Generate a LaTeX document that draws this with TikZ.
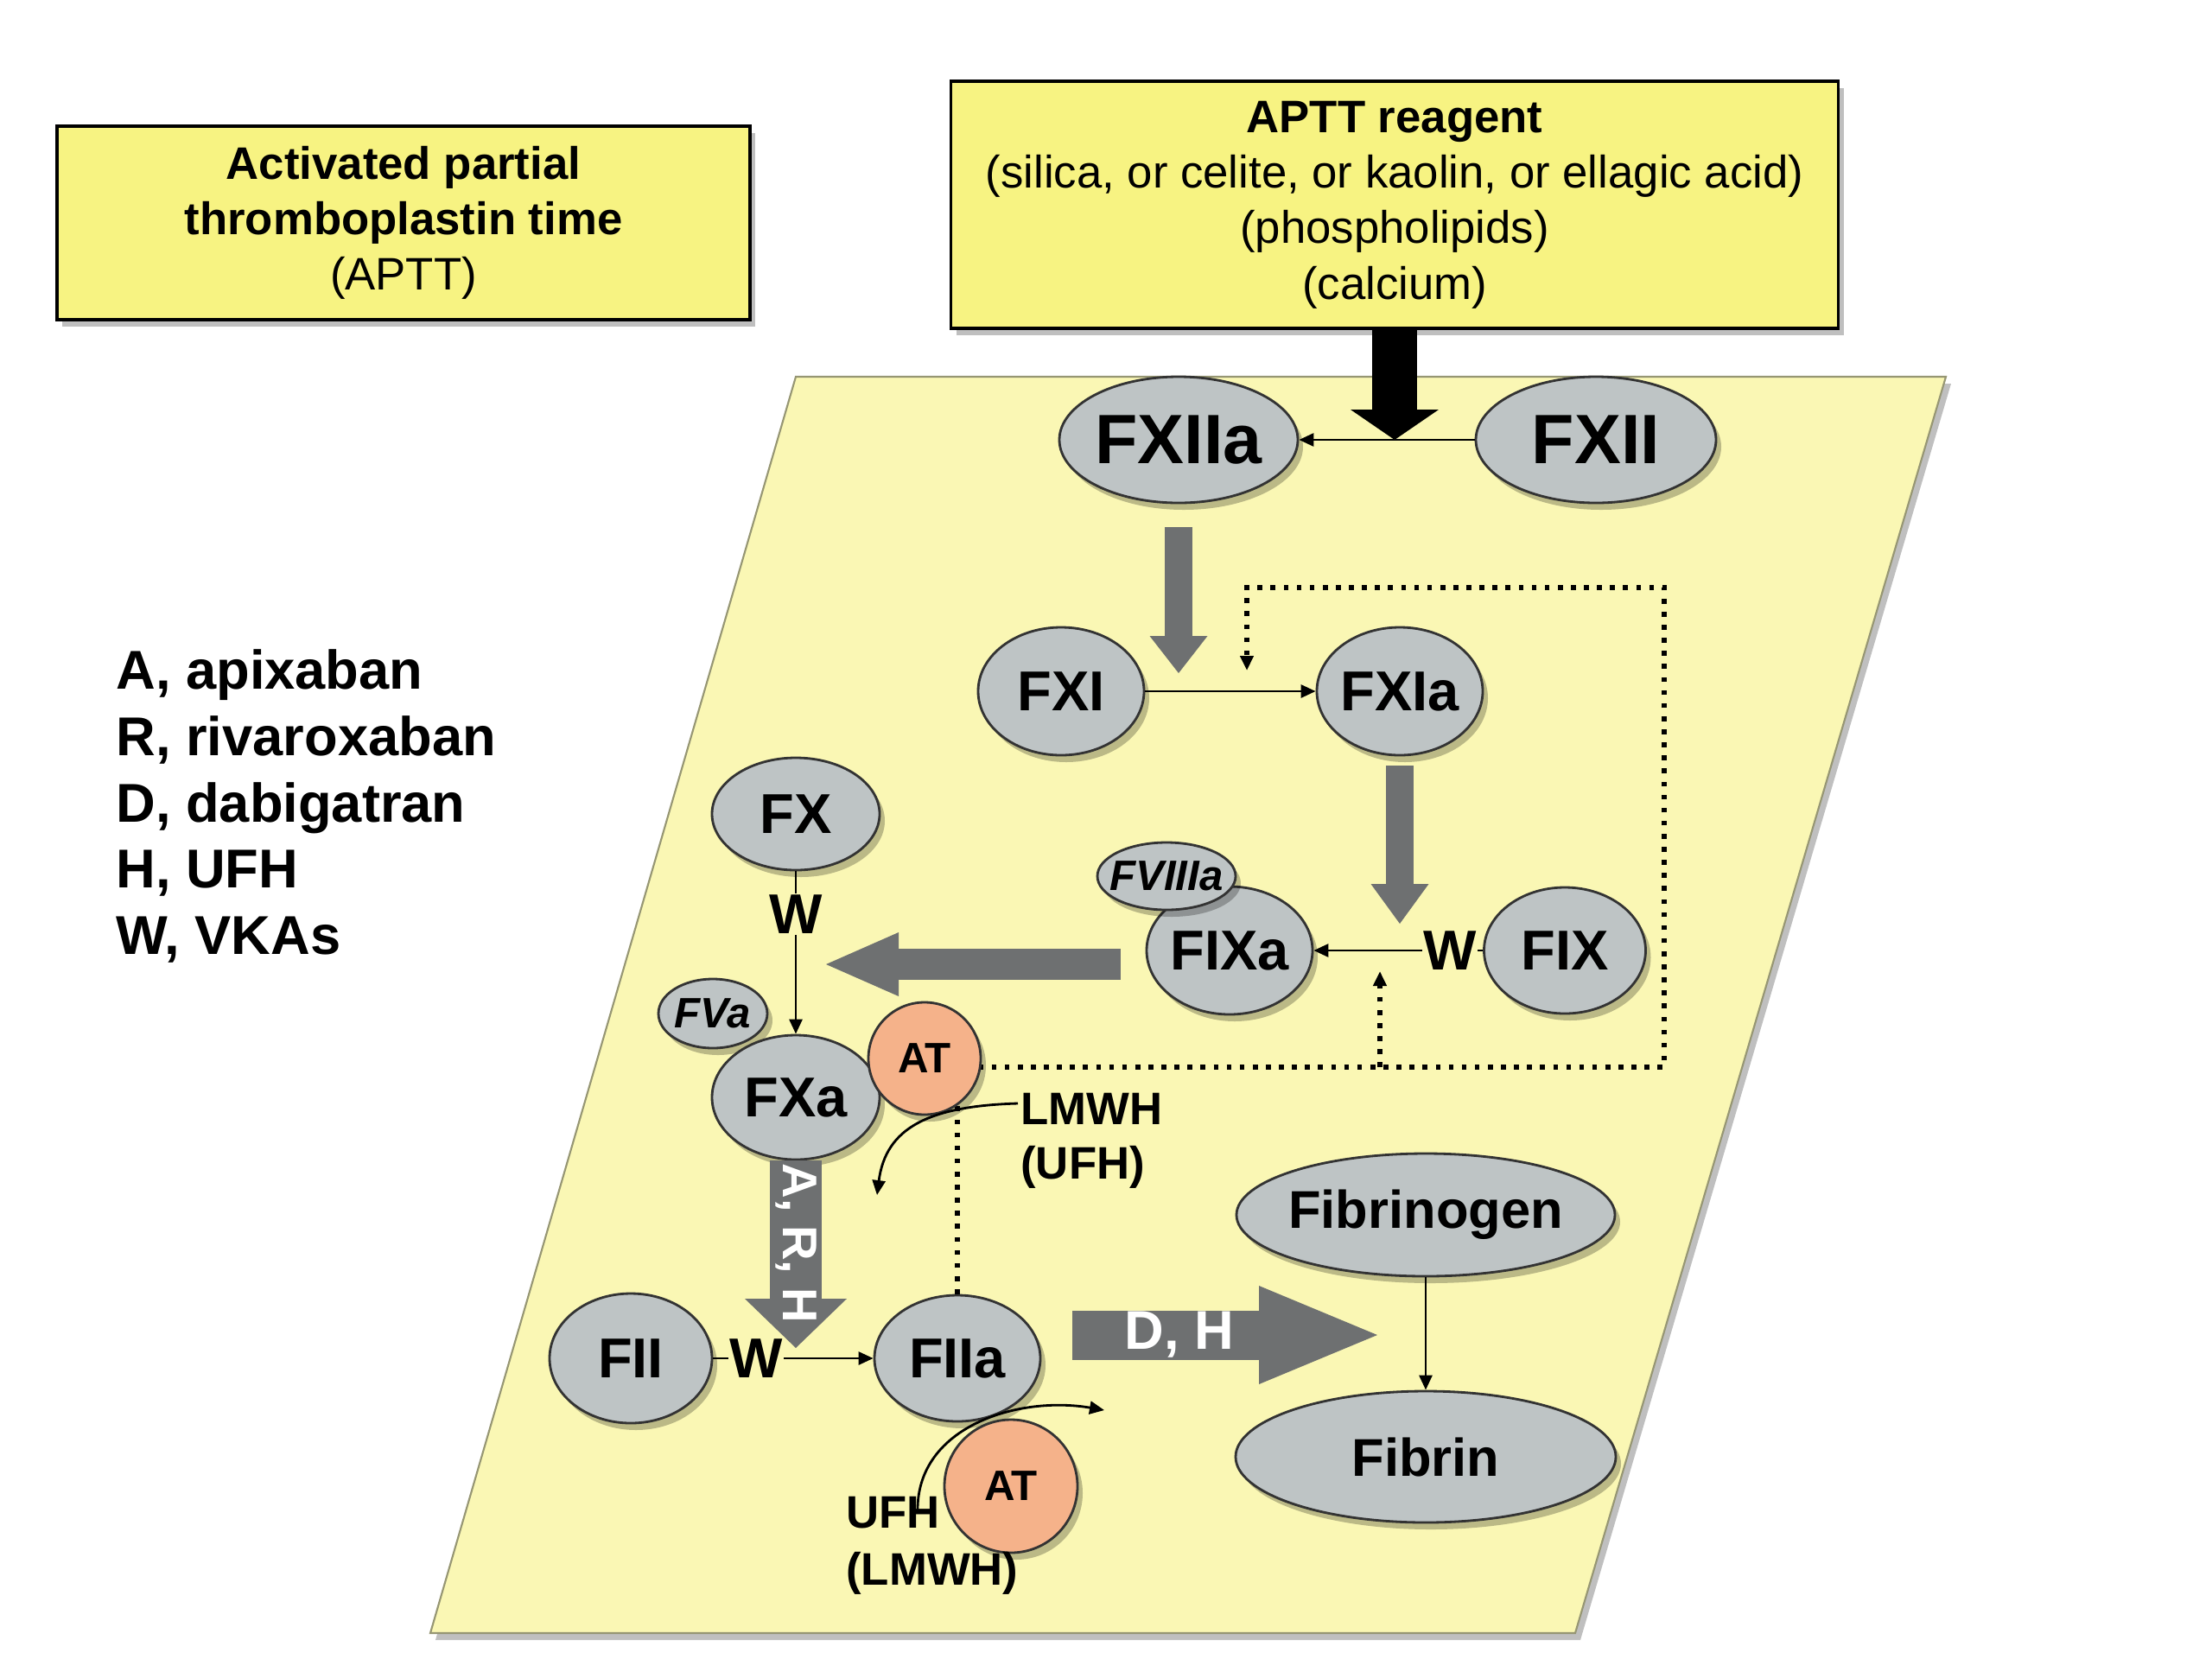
\documentclass[tikz,border=0pt]{standalone}
\usepackage{fontspec}
\setmainfont{Liberation Sans}
\usepackage{tikz}
\usetikzlibrary{arrows.meta,positioning,shapes.geometric,shadows,calc}
\definecolor{boxyellow}{RGB}{247,243,130}
\definecolor{plane}{RGB}{250,247,180}
\definecolor{planeedge}{RGB}{150,150,115}
\definecolor{factor}{RGB}{190,196,197}
\definecolor{atorange}{RGB}{245,178,138}
\definecolor{blockgray}{RGB}{110,112,113}

\begin{document}
\begin{tikzpicture}[>={Triangle[length=1.7mm,width=1.5mm]}, line width=0.8pt,
      shadowed/.style={drop shadow={shadow xshift=0.6mm, shadow yshift=-0.8mm, opacity=0.25, fill=black}},
      note/.style={draw=black, line width=1pt, fill=boxyellow, align=center, font=\fontsize{15}{18.3}\selectfont, shadowed},
      fac/.style={ellipse, draw=black!80, fill=factor, inner xsep=-1.5mm, inner ysep=0pt, font=\fontsize{18.5}{20}\selectfont\bfseries, shadowed},
      cof/.style={fac, font=\fontsize{14}{16}\selectfont\bfseries\itshape},
      atnode/.style={circle, draw=black!80, fill=atorange, inner sep=0pt, font=\fontsize{14}{16}\selectfont\bfseries, shadowed},
      vka/.style={inner sep=0pt, font=\fontsize{18.5}{20}\selectfont\bfseries},
      drug/.style={align=left, inner sep=0pt, anchor=west},
      fb/.style={line width=1.6pt, dash pattern=on 1.6pt off 2.7pt},
      fat/.style args={#1/#2/#3}{line width=#1, -{Triangle[width=#2, length=#3, line width=0pt]}},
      lbl/.style={text=white, inner sep=0pt, font=\fontsize{18}{20}\selectfont\bfseries}]
      \path[fill=white, use as bounding box] (0,0) rectangle (25.6,-19.19);
      \draw[draw=planeedge, line width=0.6pt, fill=plane, shadowed] (9.21,-4.36) -- (22.52,-4.36) -- (18.23,-18.90) -- (4.98,-18.90) -- cycle;

      \node[note, minimum width=80.2mm, minimum height=22.4mm] (aptt) at (4.67,-2.58) {\textbf{Activated partial}\\\textbf{thromboplastin time}\\(APTT)};
      \node[note, minimum width=102.7mm, minimum height=28.6mm] (reag) at (16.14,-2.37) {\textbf{APTT reagent}\\(silica, or celite, or kaolin, or ellagic acid)\\(phospholipids)\\(calcium)};
      \node[anchor=west, align=left, inner sep=0pt, font=\fontsize{18}{21.8}\selectfont\bfseries] (key) at (1.33,-9.33) {A, apixaban\\R, rivaroxaban\\D, dabigatran\\H, UFH\\W, VKAs};

      \node[fac, minimum width=27.6mm, minimum height=14.6mm, font=\fontsize{23}{25}\selectfont\bfseries] (fxiia) at (13.64,-5.09) {FXIIa};
      \node[fac, minimum width=27.8mm, minimum height=14.6mm, font=\fontsize{23}{25}\selectfont\bfseries] (fxii) at (18.47,-5.09) {FXII};
      \draw[->] (fxii) -- (fxiia);
      \draw[fat=5.2mm/10.2mm/3.5mm, draw=black] (reag.south) -- (reag.south |- fxii);

      \node[fac, minimum width=19.2mm, minimum height=14.8mm] (fxi) at (12.28,-8.00) {FXI};
      \node[fac, minimum width=19.2mm, minimum height=14.8mm] (fxia) at (16.20,-8.00) {FXIa};
      \draw[->] (fxi) -- (fxia);
      \draw[fat=3.2mm/6.7mm/4.3mm, draw=blockgray] ($(fxiia.south)+(0,-0.27)$) -- ($(fxiia.south |- fxi)+(0,0.21)$);

      \node[fac, minimum width=18.7mm, minimum height=14.6mm] (fix) at (18.11,-11.00) {FIX};
      \node[vka] (wfix) at (16.78,-11.00) {W};
      \node[fac, minimum width=19.2mm, minimum height=14.8mm] (fixa) at (14.23,-11.00) {FIXa};
      \node[cof, minimum width=16mm, minimum height=7.8mm] (fviiia) at (13.50,-10.14) {FVIIIa};
      \draw (fix) -- (wfix);
      \draw[->] (wfix) -- (fixa);
      \draw[fat=3.2mm/6.7mm/4.6mm, draw=blockgray] ($(fxia.south)+(0,-0.11)$) -- ($(fxia.south |- fix)+(0,0.31)$);

      \node[fac, minimum width=19.4mm, minimum height=13mm] (fx) at (9.21,-9.42) {FX};
      \node[vka] (wfx) at (9.21,-10.58) {W};
      \node[cof, minimum width=12.6mm, minimum height=8mm] (fva) at (8.25,-11.73) {FVa};
      \node[fac, minimum width=19.4mm, minimum height=14.4mm] (fxa) at (9.21,-12.70) {FXa};
      \draw (fx) -- (wfx);
      \draw[->] (wfx) -- (fxa);
      \draw[fat=3.6mm/7.4mm/8.4mm, draw=blockgray] ($(fixa.west)+(-0.29,-0.16)$) -- ($(fx.south |- fixa)+(0.35,-0.16)$);

      \node[fac, minimum width=18.8mm, minimum height=15mm] (fii) at (7.30,-15.72) {FII};
      \node[vka] (wfii) at (8.75,-15.72) {W};
      \node[fac, minimum width=19.2mm, minimum height=14.6mm] (fiia) at (11.08,-15.72) {FIIa};
      \draw (fii) -- (wfii);
      \draw[->] (wfii) -- (fiia);
      \draw[fat=6mm/11.8mm/5.7mm, draw=blockgray] (fxa.south) -- ($(fxa.south |- fii)+(0,0.12)$)
            node[pos=0.44, rotate=-90, lbl, font=\fontsize{16}{18}\selectfont\bfseries] {A, R, H};

      \node[fac, minimum width=43.8mm, minimum height=14.2mm, font=\fontsize{17.5}{19}\selectfont\bfseries] (fbg) at (16.50,-14.06) {Fibrinogen};
      \node[fac, minimum width=44mm, minimum height=15.2mm, font=\fontsize{17.5}{19}\selectfont\bfseries] (fbn) at (16.50,-16.86) {Fibrin};
      \draw[->] (fbg) -- (fbn);
      \draw[fat=5.7mm/11.4mm/13.7mm, draw=blockgray] ($(fiia.east)+(0.36,0.27)$) -- ($(fbn.north |- fiia)+(-0.56,0.27)$)
            node[pos=0.35, lbl] {D, H};

      \coordinate (fbse) at (19.26,-12.35);
      \coordinate (fbne) at (19.26,-6.80);
      \coordinate (fbnw) at (14.43,-6.80);
      \coordinate (fbin) at (14.43,-7.76);
      \coordinate (fbsplit) at (15.97,-12.35);
      \coordinate (fbup) at (15.97,-11.24);
      \draw[fb, ->] (fiia.north) |- (fbse) -- (fbne) -- (fbnw) -- (fbin);
      \draw[fb, ->] (fbsplit) -- (fbup);

      \node[atnode, minimum size=13mm] (ata) at (10.70,-12.25) {AT};
      \node[atnode, minimum size=15.4mm] (atb) at (11.70,-17.20) {AT};

      \node[drug, font=\fontsize{15}{18}\selectfont\bfseries] (lmwh) at (11.80,-13.20) {LMWH\\(UFH)};
      \node[drug, font=\fontsize{15}{18.8}\selectfont\bfseries] (ufh) at (9.78,-17.89) {UFH\\(LMWH)};
      \coordinate (lmwhtip) at (10.15,-13.83);
      \coordinate (ufhtip) at (12.78,-16.32);
      \draw[->] ($(lmwh.west)+(-0.02,0.43)$) .. controls (10.75,-12.80) and (10.25,-13.05) .. (lmwhtip);
      \draw[->] ($(ufh.west)+(0.84,0.42)$) .. controls (10.62,-16.50) and (11.8,-16.15) .. (ufhtip);
    \end{tikzpicture}
\end{document}
